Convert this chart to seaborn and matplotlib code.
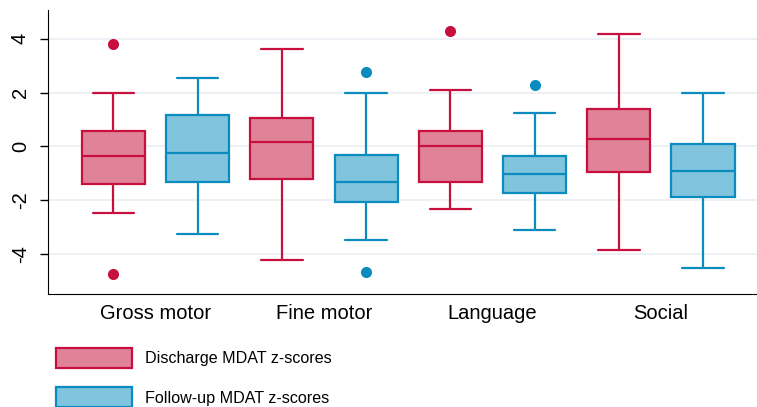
import numpy as np
import pandas as pd
import matplotlib
matplotlib.use("Agg")
import matplotlib.pyplot as plt
from matplotlib.patches import Patch
import seaborn as sns

domains = ["Gross motor", "Fine motor", "Language", "Social"]
timepoints = ["Discharge MDAT z-scores", "Follow-up MDAT z-scores"]

# five-number summaries
discharge_low = [-2.46, -4.21, -2.32, -3.85]
discharge_q1 = [-1.40, -1.21, -1.33, -0.96]
discharge_median = [-0.37, 0.15, 0.01, 0.27]
discharge_q3 = [0.57, 1.07, 0.58, 1.40]
discharge_high = [1.97, 3.62, 2.11, 4.16]

followup_low = [-3.26, -3.48, -3.09, -4.49]
followup_q1 = [-1.30, -2.04, -1.74, -1.89]
followup_median = [-0.25, -1.32, -1.02, -0.90]
followup_q3 = [1.17, -0.33, -0.37, 0.09]
followup_high = [2.54, 1.97, 1.25, 1.97]

# outlying points, split into those above and below the boxes
upper_domain = ["Gross motor", "Fine motor", "Language", "Language"]
upper_group = [timepoints[0], timepoints[1], timepoints[0], timepoints[1]]
upper_value = [3.79, 2.75, 4.30, 2.27]
lower_domain = ["Gross motor", "Fine motor"]
lower_group = [timepoints[0], timepoints[1]]
lower_value = [-4.74, -4.64]

line_colors = ["#c8103e", "#0a8cbe"]
fill_colors = ["#e08298", "#80c4de"]

#*********************************************************
# long-form table: each box is built from its five numbers
#*********************************************************
rows = []
summaries = [
    (timepoints[0], discharge_low, discharge_q1, discharge_median, discharge_q3, discharge_high),
    (timepoints[1], followup_low, followup_q1, followup_median, followup_q3, followup_high),
]
for name, lo, q1, med, q3, hi in summaries:
    for i, d in enumerate(domains):
        for v in (lo[i], q1[i], med[i], q3[i], hi[i]):
            rows.append({"domain": d, "timepoint": name, "z": v})
box_df = pd.DataFrame(rows)

upper_df = pd.DataFrame({"domain": upper_domain, "timepoint": upper_group, "z": upper_value})
lower_df = pd.DataFrame({"domain": lower_domain, "timepoint": lower_group, "z": lower_value})

sns.set_style("white")
plt.rcParams["font.family"] = ["Liberation Sans", "DejaVu Sans"]
plt.rcParams["axes.unicode_minus"] = False
plt.rcParams["text.color"] = "black"
plt.rcParams["xtick.color"] = "black"
plt.rcParams["ytick.color"] = "black"

fig = plt.figure(figsize=(7.57, 4.07), dpi=100)
ax = fig.add_axes([48 / 757, 1 - 294 / 407, 1 - 48 / 757, (294 - 9.5) / 407])

sns.boxplot(data=box_df, x="domain", y="z", hue="timepoint", order=domains,
            hue_order=timepoints, palette=fill_colors, saturation=1,
            whis=(0, 100), showfliers=False, width=1.0, gap=0.25,
            linewidth=1.6, capwidths=0.247, legend=False, ax=ax)

for cont, col in zip(ax.containers, line_colors):
    for box in cont.boxes:
        box.set_edgecolor(col)
    for ln in list(cont.whiskers) + list(cont.caps) + list(cont.medians):
        ln.set_color(col)

for df in (upper_df, lower_df):
    sns.pointplot(data=df, x="domain", y="z", hue="timepoint", order=domains,
                  hue_order=timepoints, palette=line_colors, dodge=0.5,
                  linestyle="none", errorbar=None, markers="o",
                  markersize=8, markeredgewidth=0, legend=False, ax=ax)

ax.set_xlim(-0.638, 3.57)
ax.set_ylim(-5.47, 5.08)
ax.set_yticks([-4, -2, 0, 2, 4])
ax.set_xlabel("")
ax.set_ylabel("")
ax.yaxis.grid(True, color="#edf1f5", linewidth=1.5)
ax.xaxis.grid(False)
ax.set_axisbelow(True)
for s in ["top", "right"]:
    ax.spines[s].set_visible(False)
ax.spines["left"].set_color("black")
ax.spines["bottom"].set_color("black")
ax.tick_params(axis="x", length=0, pad=7, labelsize=14.5, labelcolor="black")
ax.tick_params(axis="y", length=6, width=1, color="black", pad=7,
               labelsize=14.5, labelrotation=90, left=True, labelcolor="black")
for lab in ax.get_yticklabels():
    lab.set_va("center")

handles = [Patch(facecolor=f, edgecolor=c, linewidth=1.6) for f, c in zip(fill_colors, line_colors)]
fig.legend(handles, timepoints, loc="upper left", bbox_to_anchor=(56 / 757, 1 - 348 / 407),
           frameon=False, fontsize=11.6, handlelength=4.72, handleheight=1.55,
           labelspacing=1.18, handletextpad=0.81, borderpad=0, borderaxespad=0,
           labelcolor="black")

fig.savefig("out.png", dpi=100)
